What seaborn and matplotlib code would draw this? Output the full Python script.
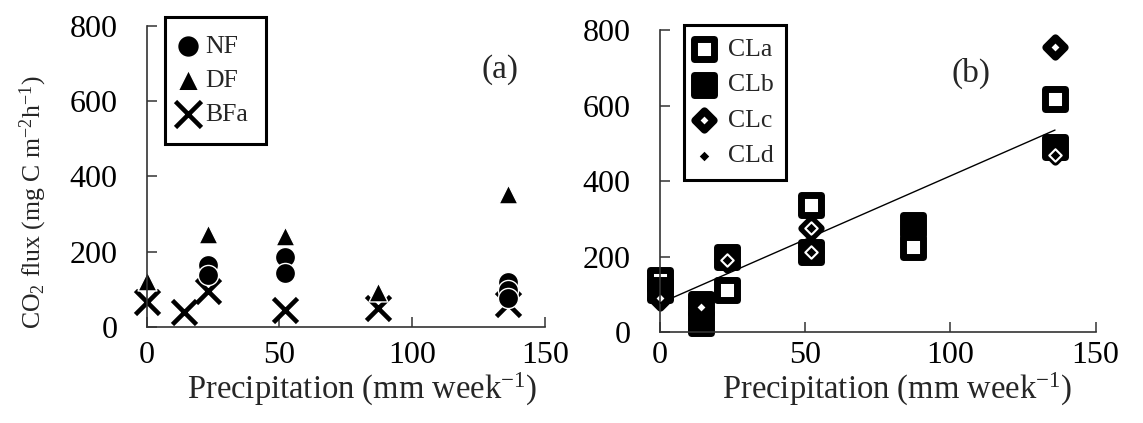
import matplotlib
matplotlib.use("Agg")
import matplotlib.pyplot as plt
from matplotlib.markers import MarkerStyle
import numpy as np
import seaborn as sns

# ---- axis settings ----
x_ticks = [0, 50, 100, 150]
y_ticks = [0, 200, 400, 600, 800]

# ---- panel (a): forest plots ----
nf_x = [23, 23, 52, 52, 136, 136, 136]
nf_y = [164, 137, 185, 142, 118, 98, 75]
df_x = [0, 23, 52, 87, 136]
df_y = [122, 246, 242, 92, 352]
bfa_x = [0, 14, 23, 52, 87, 136]
bfa_y = [66, 40, 95, 44, 50, 60]

# ---- panel (b): cropland plots ----
cla_x = [0, 23, 52, 87, 136]
cla_y = [139, 113, 337, 226, 618]
clb_x = [0, 14, 14, 23, 52, 87, 136]
clb_y = [112, 76, 24, 200, 213, 284, 491]
clc_x = [0, 14, 23, 52, 52, 136, 136]
clc_y = [90, 66, 192, 275, 213, 755, 476]
cld_x = [23, 52, 52, 136]
cld_y = [192, 275, 213, 469]

# linear fit for cropland flux vs precipitation
fit_intercept = 77
fit_slope = 3.37
fit_x = np.array([0, 136])
fit_y = fit_intercept + fit_slope * fit_x

sns.set_theme(style="white")
plt.rcParams["font.family"] = ["Liberation Serif", "DejaVu Serif"]
plt.rcParams["mathtext.fontset"] = "custom"
plt.rcParams["mathtext.rm"] = "Liberation Serif"
plt.rcParams["mathtext.it"] = "Liberation Serif:italic"
plt.rcParams["mathtext.bf"] = "Liberation Serif:bold"

FS = 23
AX_COLOR = "#333333"

fig = plt.figure(figsize=(11.43, 4.23), dpi=100)
ax_a = fig.add_axes([0.1283, 0.2277, 0.3485, 0.7108])
ax_b = fig.add_axes([0.5774, 0.2144, 0.3812, 0.7146])

for ax in (ax_a, ax_b):
    ax.set_xlim(0, 150)
    ax.set_ylim(0, 800)
    ax.set_xticks(x_ticks)
    ax.set_yticks(y_ticks)
    sns.despine(ax=ax)
    for side in ("left", "bottom"):
        ax.spines[side].set_color(AX_COLOR)
        ax.spines[side].set_linewidth(1.2)
    ax.tick_params(axis="both", direction="in", length=7, width=1.1,
                   color=AX_COLOR, labelsize=FS, labelcolor="black",
                   left=True, bottom=True)
    ax.tick_params(axis="y", pad=21)
    ax.set_xlabel("Precipitation (mm week$^{-1}$)", fontsize=FS + 0.5)

# both x tick rows and both x titles sit on the same baseline
ax_a.tick_params(axis="x", pad=10)
ax_b.tick_params(axis="x", pad=6)
ax_a.xaxis.set_label_coords(0.54, -0.1473)
ax_b.xaxis.set_label_coords(0.544, -0.128)

rsq = MarkerStyle("s", joinstyle="round")
rdia = MarkerStyle("D", joinstyle="round")

# panel (a)
sns.scatterplot(x=bfa_x, y=bfa_y, ax=ax_a, marker="x", s=300, color="black",
                linewidth=3.3, clip_on=False, label="BFa")
sns.scatterplot(x=df_x, y=df_y, ax=ax_a, marker="^", s=185, color="black",
                edgecolor="white", linewidth=1.0, clip_on=False, label="DF")
sns.scatterplot(x=nf_x, y=nf_y, ax=ax_a, marker="o", s=210, color="black",
                edgecolor="white", linewidth=1.0, clip_on=False, label="NF")

# panel (b)
sns.scatterplot(x=cla_x, y=cla_y, ax=ax_b, marker=rsq, s=200, color="white",
                facecolor="white", edgecolor="black", linewidth=5.0,
                clip_on=False, label="CLa")
sns.scatterplot(x=clb_x, y=clb_y, ax=ax_b, marker=rsq, s=200, color="black",
                edgecolor="black", linewidth=5.0, clip_on=False, label="CLb")
sns.scatterplot(x=clc_x, y=clc_y, ax=ax_b, marker=rdia, s=90, color="white",
                facecolor="white", edgecolor="black", linewidth=5.5,
                clip_on=False, label="CLc")
sns.scatterplot(x=cld_x, y=cld_y, ax=ax_b, marker="D", s=40, color="black",
                edgecolor="white", linewidth=1.5, clip_on=False, label="CLd")
sns.lineplot(x=fit_x, y=fit_y, ax=ax_b, color="black", linewidth=1.0,
             zorder=5, legend=False)


def boxed_legend(ax, order, anchor, spacing, pad, hlen, tpad, scale=1.0):
    handles, labels = ax.get_legend_handles_labels()
    lookup = dict(zip(labels, handles))
    leg = ax.legend([lookup[k] for k in order], order, loc="upper left",
                    bbox_to_anchor=anchor, borderaxespad=0, frameon=True,
                    fancybox=False, framealpha=1, edgecolor="black",
                    fontsize=18.5, handlelength=hlen, handletextpad=tpad,
                    labelspacing=spacing, borderpad=pad, scatterpoints=1,
                    markerscale=scale)
    leg.get_frame().set_linewidth(2.2)
    return leg


boxed_legend(ax_a, ["NF", "DF", "BFa"], (0.046, 1.03),
             spacing=0.42, pad=0.7, hlen=0.4, tpad=0.45, scale=1.08)
boxed_legend(ax_b, ["CLa", "CLb", "CLc", "CLd"], (0.055, 1.017),
             spacing=0.49, pad=0.5, hlen=0.55, tpad=0.66)

ax_a.text(133, 683, "(a)", fontsize=FS + 1, ha="center", va="center")
ax_b.text(107, 685, "(b)", fontsize=FS + 1, ha="center", va="center")

ax_a.set_ylabel("CO$_2$ flux (mg C m$^{-2}$h$^{-1}$)", fontsize=18.5)
ax_a.yaxis.set_label_coords(-0.245, 0.415)
ax_b.set_ylabel("")

fig.savefig("out.png", dpi=100)
